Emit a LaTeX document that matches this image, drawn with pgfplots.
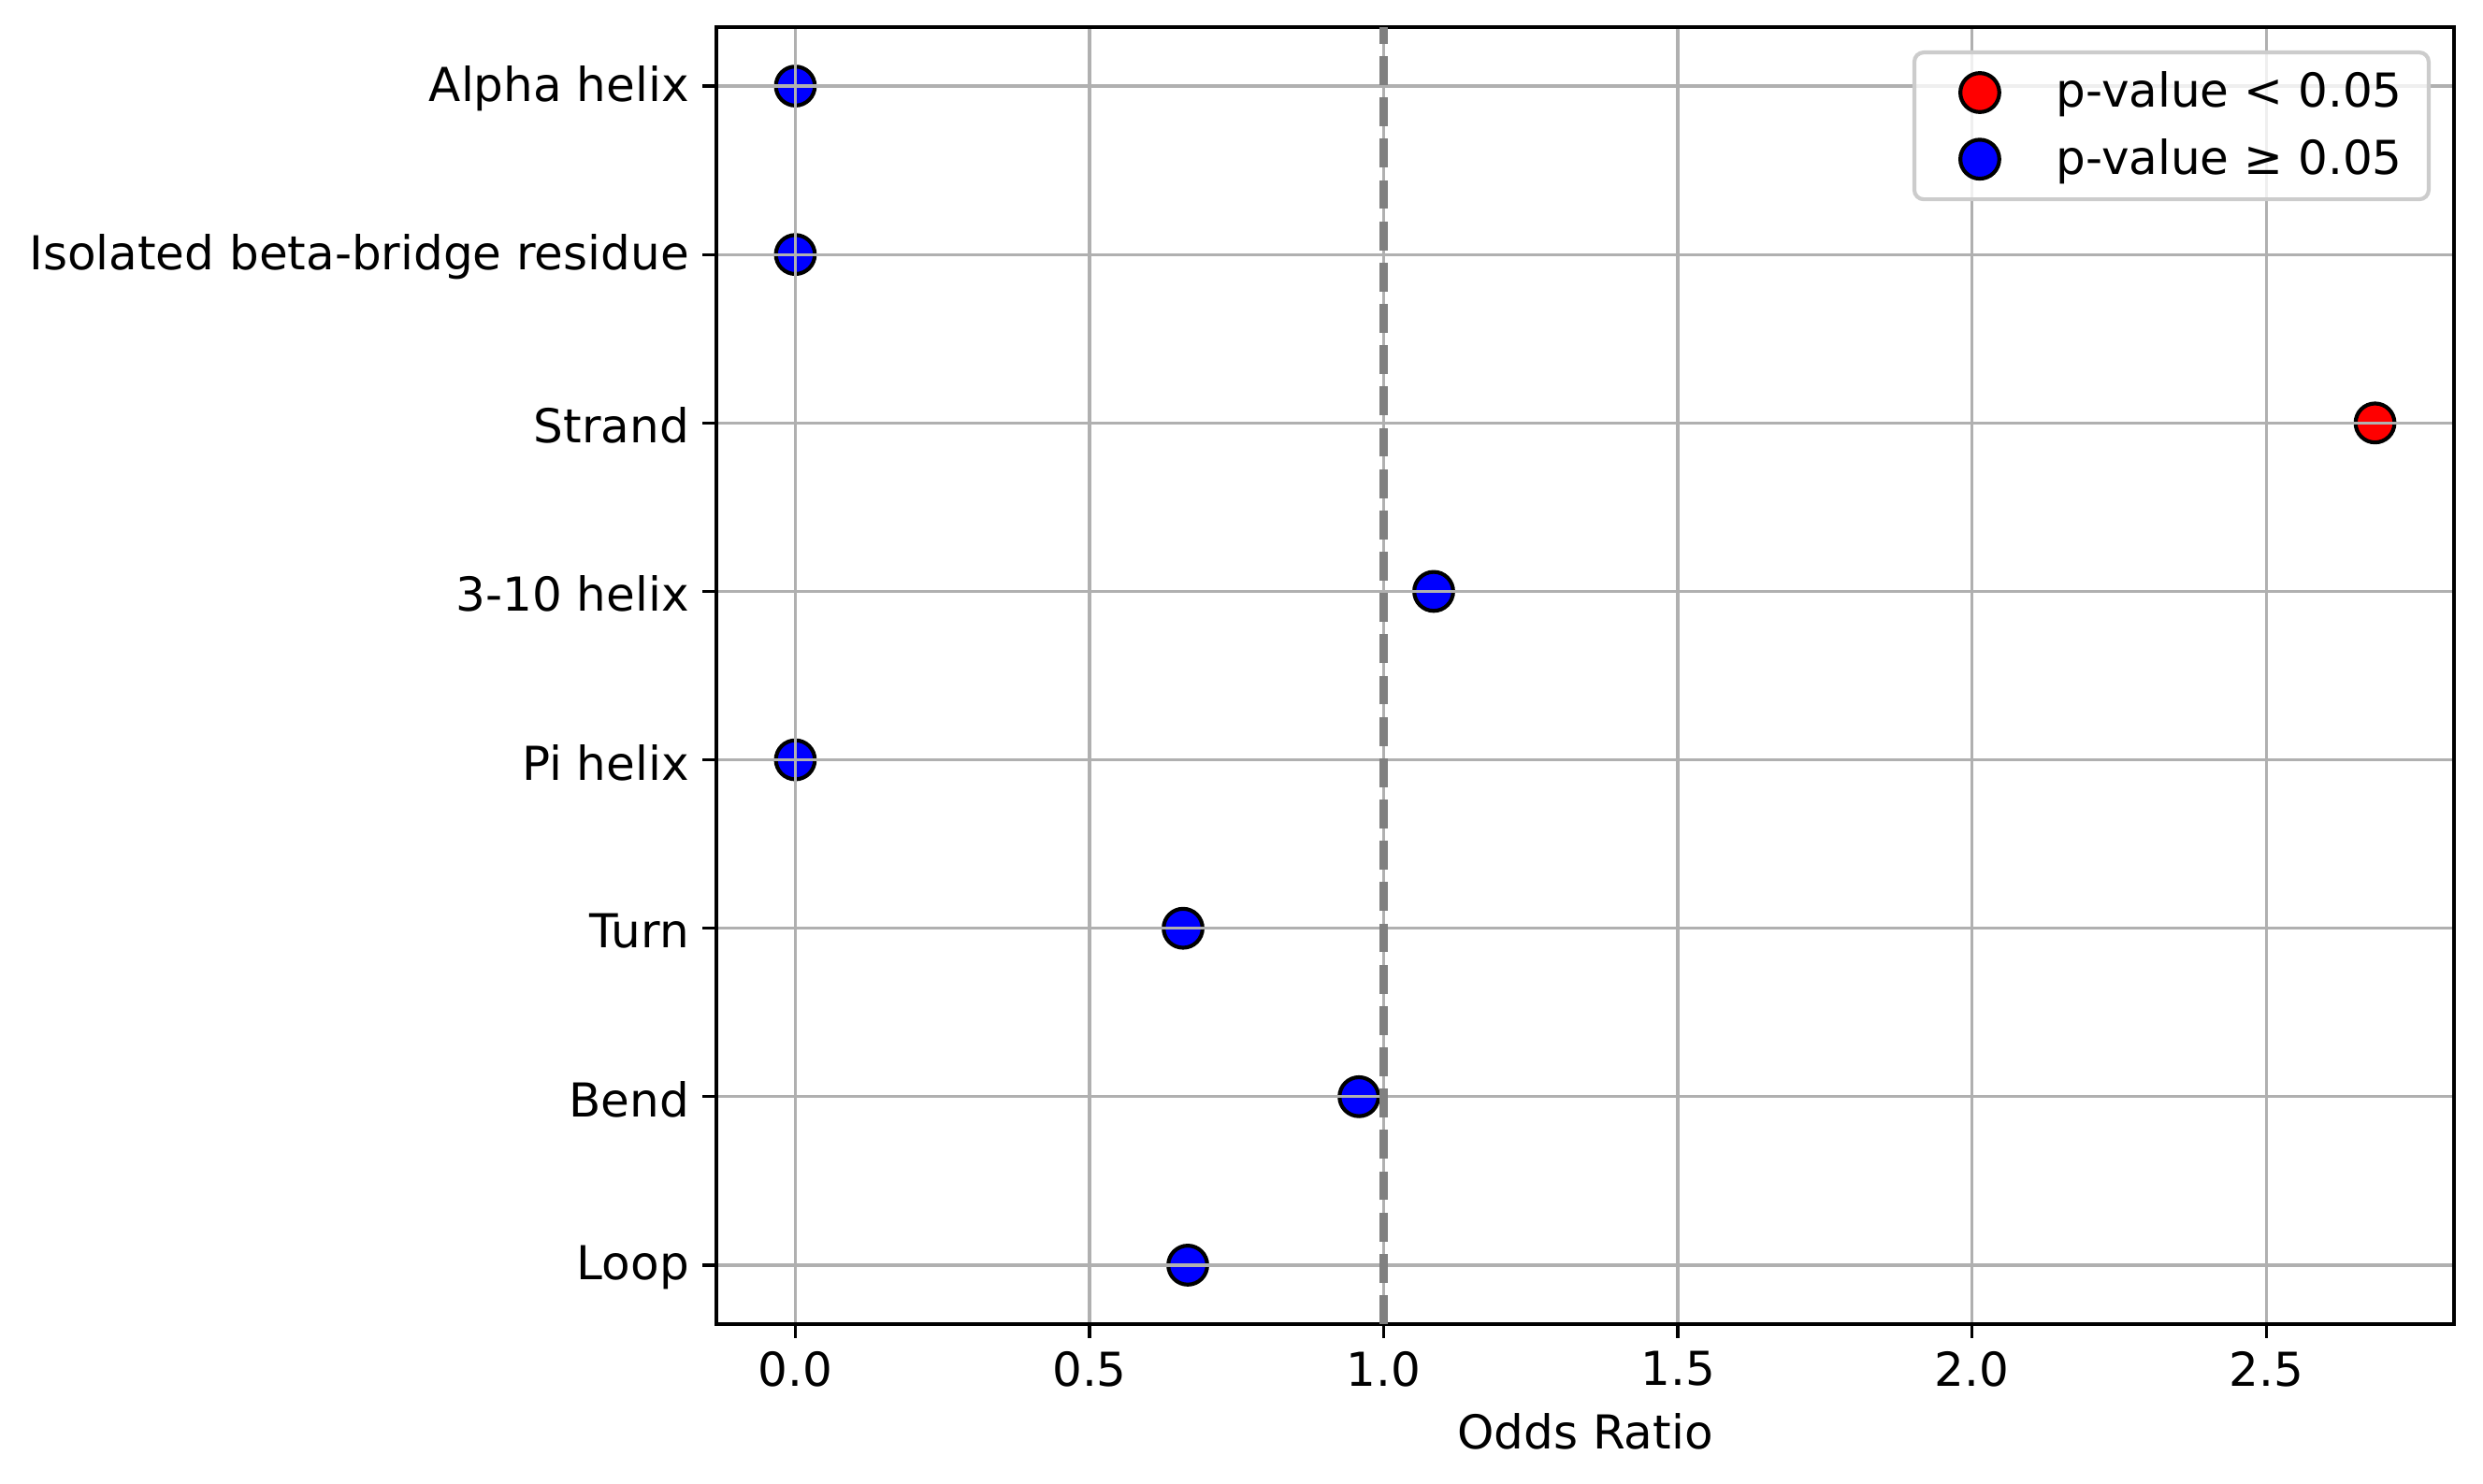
\documentclass[border=0pt]{standalone}
\usepackage{pgfplots}
\pgfplotsset{compat=1.18}
\usepackage{fontspec}
\setmainfont{DejaVu Sans}
\definecolor{gridgray}{HTML}{B0B0B0}
\definecolor{legedge}{HTML}{CCCCCC}
\definecolor{refgray}{HTML}{808080}
\begin{document}
\begin{tikzpicture}[font=\fontsize{12bp}{14.4bp}\selectfont]
\begin{axis}[
  name=ax,
  set layers,
  axis on top,
  scale only axis,
  width=445.92bp, height=332.88bp,
  xmin=-0.13425, xmax=2.81925,
  ymin=-0.35, ymax=7.35,
  xtick={0,0.5,1,1.5,2,2.5},
  xticklabels={0.0,0.5,1.0,1.5,2.0,2.5},
  ytick={0,1,2,3,4,5,6,7},
  yticklabels={Loop,Bend,Turn,Pi helix,3-10 helix,Strand,Isolated beta-bridge residue,Alpha helix},
  yticklabel style={yshift=-0.7bp},
  tick pos=left,
  tick align=outside,
  major tick length=3.5bp,
  every tick/.style={black, line width=0.8bp},
  axis line style={black, line width=0.8bp},
  grid=major,
  major grid style={gridgray, line width=0.8bp},
  /pgf/number format/assume math mode=true,
  xlabel={Odds Ratio},
  legend style={
    at={(1,1)}, anchor=north east, xshift=-6bp, yshift=-6bp,
    draw=legedge, line width=1bp, fill=white, fill opacity=0.8, text opacity=1,
    rounded corners=2.4bp,
    inner xsep=4.8bp, inner ysep=3bp,
    row sep=2.5bp,
    font=\fontsize{12bp}{14.4bp}\selectfont,
    /tikz/every odd column/.append style={column sep=5.6bp},
  },
  legend cell align=left,
  legend image code/.code={\path[draw=none,fill=none] (0bp,0bp) -- (24bp,0bp); \draw[mark repeat=2,mark phase=2,#1,fill opacity=1,draw opacity=1] plot coordinates {(0bp,0bp)(12bp,0bp)(24bp,0bp)};},
]
\addplot[on layer=axis foreground, refgray, line width=2bp, dash pattern=on 7.4bp off 3.2bp, forget plot] coordinates {(1,-0.35) (1,7.35)};
\addplot[only marks, mark=*, mark size=5bp, mark options={draw=black, line width=1bp, fill=red, fill opacity=1}] coordinates {(2.685,5)};
\addlegendentry{p-value < 0.05}
\addplot[only marks, mark=*, mark size=5bp, mark options={draw=black, line width=1bp, fill=blue, fill opacity=1}] coordinates {
(0.667,0) (0.958,1) (0.659,2) (0,3) (1.085,4) (0,6) (0,7)};
\addlegendentry{p-value ≥ 0.05}
\end{axis}
\pgfresetboundingbox
\path[use as bounding box] ([shift={(-183.84bp,-41.04bp)}]ax.south west) rectangle ([shift={(7.44bp,6.96bp)}]ax.north east);
\end{tikzpicture}
\end{document}
